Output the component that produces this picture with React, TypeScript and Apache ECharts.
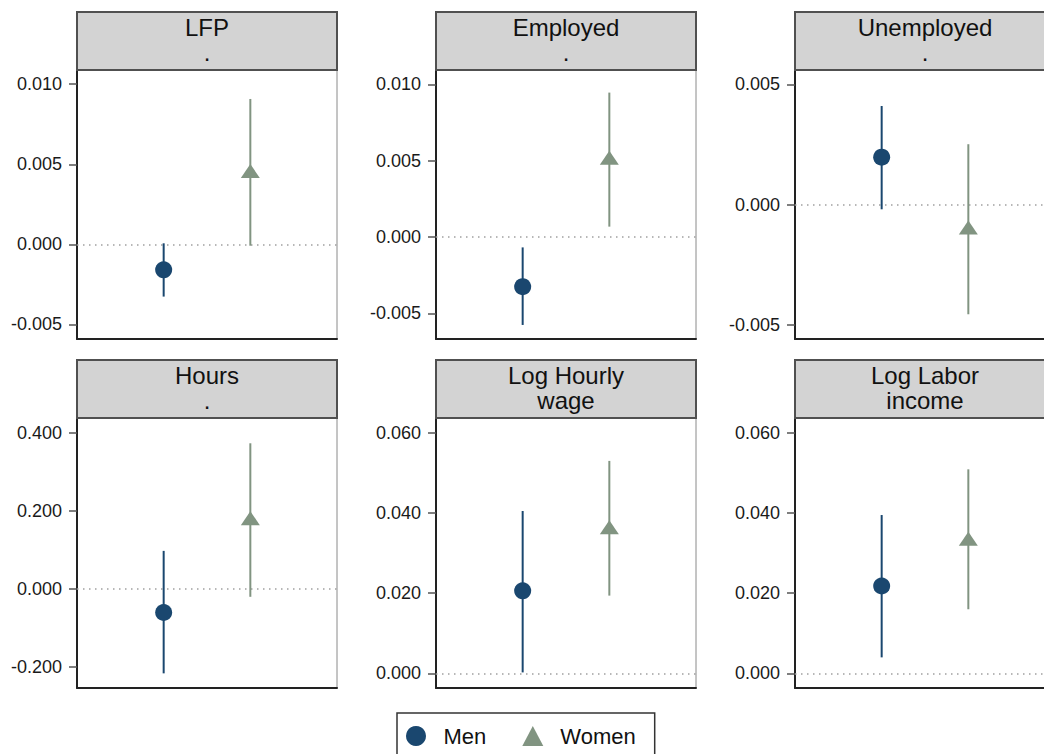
import React, { useEffect, useRef } from "react";
import * as echarts from "echarts";

// ---- data ----
const panelTitles = ["LFP\n.", "Employed\n.", "Unemployed\n.", "Hours\n.", "Log Hourly\nwage", "Log Labor\nincome"];
const groups = ["Men", "Women"];
const menEst = [-0.0016, -0.00325, 0.00197, -0.0608, 0.0206, 0.0218];
const menLo = [-0.00327, -0.00576, -0.0002, -0.217, 0.00025, 0.004];
const menHi = [0.00006, -0.00068, 0.0041, 0.0974, 0.0405, 0.0395];
const womenEst = [0.00458, 0.00519, -0.00096, 0.1813, 0.03646, 0.0336];
const womenLo = [-0.00009, 0.00068, -0.00457, -0.0205, 0.0194, 0.016];
const womenHi = [0.00908, 0.00946, 0.00251, 0.3736, 0.053, 0.0509];
const yMin = [-0.00592, -0.00668, -0.0056, -0.2546, -0.00364, -0.00364];
const yMax = [0.01089, 0.01094, 0.0056, 0.4385, 0.0637, 0.0637];
const yTicks = [
  [-0.005, 0, 0.005, 0.01],
  [-0.005, 0, 0.005, 0.01],
  [-0.005, 0, 0.005],
  [-0.2, 0, 0.2, 0.4],
  [0, 0.02, 0.04, 0.06],
  [0, 0.02, 0.04, 0.06],
];

const MEN_COLOR = "#1a476f";
const WOMEN_COLOR = "#819481";
const FONT = '"Liberation Sans", Arial, sans-serif';

const COL_LEFT = [77, 436, 795];
const PANEL_W = 260;
const HEADER_TOP = [12, 360];
const HEADER_H = 58;
const PLOT_H = [269, 270];

export default function App() {
  const ref = useRef<HTMLDivElement>(null);
  useEffect(() => {
    if (!ref.current) return;
    const chart = echarts.init(ref.current, null, { renderer: "svg" });

    const grids: any[] = [];
    const xAxes: any[] = [];
    const yAxes: any[] = [];
    const series: any[] = [];
    const graphics: any[] = [];

    panelTitles.forEach((title, i) => {
      const col = i % 3;
      const row = Math.floor(i / 3);
      const left = COL_LEFT[col];
      const hTop = HEADER_TOP[row];
      grids.push({
        left,
        top: hTop + HEADER_H,
        width: PANEL_W,
        height: PLOT_H[row],
        show: true,
        borderColor: "#8a8a8a",
        borderWidth: 1,
        backgroundColor: "#fff",
        containLabel: false,
        outerBoundsMode: "none",
      });
      xAxes.push({
        type: "value",
        gridIndex: i,
        min: 0,
        max: 3,
        axisLine: { show: true, onZero: false, lineStyle: { color: "#222", width: 2 } },
        axisTick: { show: false },
        axisLabel: { show: false },
        splitLine: { show: false },
      });
      yAxes.push({
        type: "value",
        gridIndex: i,
        min: yMin[i],
        max: yMax[i],
        axisLine: { show: true, onZero: false, lineStyle: { color: "#222", width: 2 } },
        axisTick: {
          show: true,
          length: 8,
          customValues: yTicks[i],
          lineStyle: { color: "#555", width: 1.5 },
        },
        axisLabel: {
          show: true,
          customValues: yTicks[i],
          margin: 15,
          color: "#1a1a1a",
          fontSize: 18,
          fontFamily: FONT,
          formatter: (v: number) => v.toFixed(3),
        },
        splitLine: { show: false },
      });

      const makeCI = (name: string, x: number, lo: number, hi: number, color: string) => ({
        type: "custom",
        name: name + " CI",
        xAxisIndex: i,
        yAxisIndex: i,
        z: 3,
        silent: true,
        data: [[x, lo, hi]],
        encode: { x: 0, y: [1, 2] },
        renderItem: (params: any, api: any) => {
          const p1 = api.coord([api.value(0), api.value(1)]);
          const p2 = api.coord([api.value(0), api.value(2)]);
          return {
            type: "line",
            shape: { x1: p1[0], y1: p1[1], x2: p2[0], y2: p2[1] },
            style: { stroke: color, lineWidth: 2 },
          };
        },
      });

      series.push(makeCI(groups[0], 1, menLo[i], menHi[i], MEN_COLOR));
      series.push(makeCI(groups[1], 2, womenLo[i], womenHi[i], WOMEN_COLOR));
      series.push({
        type: "scatter",
        name: groups[0],
        xAxisIndex: i,
        yAxisIndex: i,
        z: 5,
        symbol: "circle",
        symbolSize: 17,
        itemStyle: { color: MEN_COLOR, opacity: 1 },
        data: [[1, menEst[i]]],
        markLine: {
          silent: true,
          symbol: "none",
          label: { show: false },
          lineStyle: { color: "#a0a0a0", type: [1.5, 4.5], width: 1.5 },
          data: [{ yAxis: 0 }],
          z: 1,
        },
      });
      series.push({
        type: "scatter",
        name: groups[1],
        xAxisIndex: i,
        yAxisIndex: i,
        z: 5,
        symbol: "triangle",
        symbolSize: [19, 14],
        itemStyle: { color: WOMEN_COLOR, opacity: 1 },
        data: [[2, womenEst[i]]],
      });

      graphics.push({
        type: "rect",
        shape: { x: left, y: hTop, width: PANEL_W, height: HEADER_H },
        style: { fill: "#d3d3d3", stroke: "#505050", lineWidth: 2 },
        z: 10,
      });
      graphics.push({
        type: "text",
        x: left + PANEL_W / 2,
        y: hTop + HEADER_H / 2 - 1,
        z: 11,
        style: {
          text: title,
          fontSize: 24,
          fontFamily: FONT,
          lineHeight: 25,
          fill: "#111",
          align: "center",
          textAlign: "center",
          verticalAlign: "middle",
          textVerticalAlign: "middle",
        },
      });
    });

    chart.setOption({
      animation: false,
      backgroundColor: "#fff",
      grid: grids,
      xAxis: xAxes,
      yAxis: yAxes,
      series,
      graphic: graphics,
      legend: {
        show: true,
        left: 397,
        top: 713,
        orient: "horizontal",
        data: [
          { name: groups[0], icon: "circle" },
          { name: groups[1], icon: "triangle" },
        ],
        itemWidth: 21,
        itemHeight: 20,
        itemGap: 36,
        padding: [12, 19, 22, 9],
        borderColor: "#333",
        borderWidth: 1.5,
        borderRadius: 0,
        backgroundColor: "#fff",
        selectedMode: false,
        textStyle: {
          fontSize: 22,
          fontFamily: FONT,
          color: "#111",
          padding: [0, 0, 0, 12],
        },
      },
    });

    return () => chart.dispose();
  }, []);

  return (
    <div
      ref={ref}
      style={{ position: "fixed", left: 0, top: 0, width: 1044, height: 754, background: "#fff" }}
    />
  );
}
